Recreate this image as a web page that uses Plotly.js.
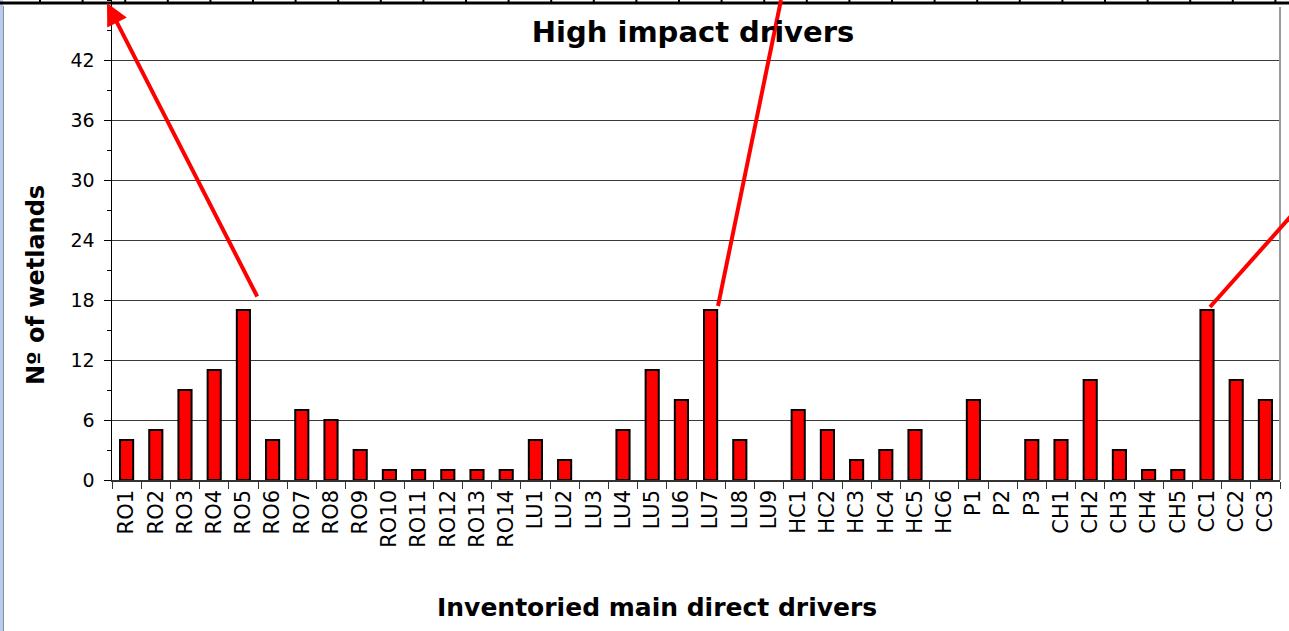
<!DOCTYPE html>
<html><head><meta charset="utf-8">
<script src="https://cdn.plot.ly/plotly-3.0.1.min.js"></script>
<style>html,body{margin:0;padding:0;background:#fff;overflow:hidden}#chart{width:1289px;height:631px}</style>
</head><body><div id="chart"></div>
<script>
// ---- data ----
const categories = ["RO1","RO2","RO3","RO4","RO5","RO6","RO7","RO8","RO9","RO10","RO11","RO12","RO13","RO14",
  "LU1","LU2","LU3","LU4","LU5","LU6","LU7","LU8","LU9",
  "HC1","HC2","HC3","HC4","HC5","HC6",
  "P1","P2","P3",
  "CH1","CH2","CH3","CH4","CH5",
  "CC1","CC2","CC3"];
const wetlands = [4,5,9,11,17,4,7,6,3,1,1,1,1,1,
  4,2,0,5,11,8,17,4,0,
  7,5,2,3,5,0,
  8,0,4,
  4,10,3,1,1,
  17,10,8];
const yTickValues = [0,6,12,18,24,30,36,42];
const yTickLabels = ["0","6","12","18","24","30","36","42"];
const chartTitle = "High impact drivers";
const xTitle = "Inventoried main direct drivers";
const yTitle = "Nº of wetlands";

// ---- layout helpers ----
const W = 1289, H = 631;
const M = {l:112, r:9, t:0, b:151};
const PW = W - M.l - M.r, PH = H - M.t - M.b;
const px = x => (x - M.l) / PW;       // pixel x -> paper x
const py = y => (M.t + PH - y) / PH;  // pixel y -> paper y
const FONT = "DejaVu Sans";

const shapes = [];
// left light-blue frame stripe
shapes.push({type:'rect', xref:'paper', yref:'paper', x0:px(0), x1:px(3), y0:py(H), y1:py(0),
  fillcolor:'#bccbe6', line:{width:0}, layer:'above'});
shapes.push({type:'line', xref:'paper', yref:'paper', x0:px(3.5), x1:px(3.5), y0:py(H), y1:py(6),
  line:{color:'#7d8db0', width:1}, layer:'above'});
// top black rule with small ticks
shapes.push({type:'line', xref:'paper', yref:'paper', x0:px(0), x1:px(W), y0:py(3), y1:py(3),
  line:{color:'#000', width:3}, layer:'above'});
for (let i = 0; i < 30; i++) {
  const tx = 40 + i * 42.6;
  shapes.push({type:'line', xref:'paper', yref:'paper', x0:px(tx), x1:px(tx), y0:py(0), y1:py(3),
    line:{color:'#000', width:2}, layer:'above'});
}
// right plot-area border
shapes.push({type:'line', xref:'paper', yref:'paper', x0:1, x1:1, y0:0, y1:py(7),
  line:{color:'#9a9a9a', width:2}, layer:'above'});
// red arrow lines (2nd and 3rd, heads cut off at picture edge)
shapes.push({type:'line', xref:'paper', yref:'paper', x0:px(718), y0:py(306), x1:px(781), y1:py(0),
  line:{color:'#ff0000', width:4}, layer:'above'});
shapes.push({type:'line', xref:'paper', yref:'paper', x0:px(1210), y0:py(307), x1:px(1292), y1:py(215),
  line:{color:'#ff0000', width:4}, layer:'above'});

const annotations = [
  {xref:'paper', yref:'paper', x:px(107), y:py(3), ax:151, ay:295, axref:'pixel', ayref:'pixel',
   text:'', showarrow:true, arrowhead:2, arrowsize:1.1, arrowwidth:4, arrowcolor:'#ff0000', standoff:0},
  {xref:'paper', yref:'paper', x:px(657), y:py(607), text:xTitle, showarrow:false,
   xanchor:'center', yanchor:'middle', font:{family:FONT, size:25, color:'#000', weight:'bold'}},
  {xref:'paper', yref:'paper', x:px(36), y:py(285), text:yTitle, showarrow:false, textangle:-90,
   xanchor:'center', yanchor:'middle', font:{family:FONT, size:24, color:'#000', weight:'bold'}}
];

const trace = {
  type:'bar', x:categories, y:wetlands,
  marker:{color:'#ff0000', line:{color:'#000', width:wetlands.map(v => v > 0 ? 2 : 0)}},
  hoverinfo:'x+y'
};

const layout = {
  width:W, height:H, margin:M,
  paper_bgcolor:'#fff', plot_bgcolor:'#fff',
  showlegend:false, bargap:0.55,
  title:{text:chartTitle, x:px(693), xref:'paper', xanchor:'center', y:1 - 32/H, yanchor:'middle',
    font:{family:FONT, size:29, color:'#000', weight:'bold'}},
  xaxis:{type:'category', range:[-0.5, categories.length - 0.5], tickangle:-90,
    ticks:'outside', tickson:'boundaries', ticklen:7, tickwidth:1, tickcolor:'#333',
    showline:true, linecolor:'#333', linewidth:1.5, showgrid:false, zeroline:false,
    tickfont:{family:FONT, size:21, color:'#000'}, fixedrange:true},
  yaxis:{range:[0,48], tickmode:'array', tickvals:yTickValues, ticktext:yTickLabels,
    ticks:'outside', ticklen:7, tickwidth:1, tickcolor:'#000',
    showline:true, linecolor:'#000', linewidth:1.5,
    showgrid:true, gridcolor:'#3a3a3a', gridwidth:1, zeroline:false,
    tickfont:{family:FONT, size:19, color:'#000'}, ticklabelstandoff:5,
    minor:{tickmode:'linear', tick0:0, dtick:3, ticks:'outside', ticklen:4, tickcolor:'#000', showgrid:false},
    fixedrange:true},
  shapes:shapes, annotations:annotations
};

Plotly.newPlot('chart', [trace], layout, {displayModeBar:false, staticPlot:true});
</script>
</body></html>
